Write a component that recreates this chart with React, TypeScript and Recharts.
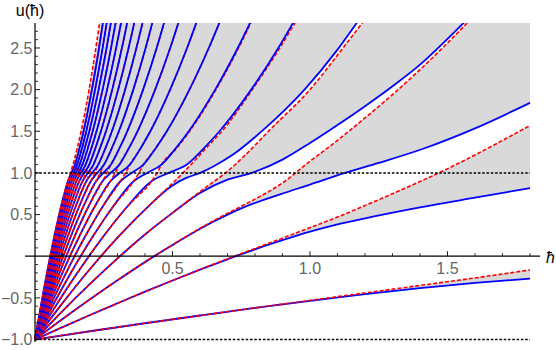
import {
  Area,
  ComposedChart,
  Line,
  ReferenceDot,
  ReferenceLine,
  XAxis,
  YAxis,
} from "recharts";

// frame runs a little past the data like the original plot
const H_DOMAIN: [number, number] = [-0.0364, 1.8364];
const U_DOMAIN: [number, number] = [-1.03, 2.8];

// lower band edges (blue), one list of [ħ, u] per band, band 0 first
const blueEdges: number[][][] = [
  [[0, -1], [0.2, -0.901], [0.4, -0.805], [0.6, -0.712], [0.8, -0.621], [1, -0.535], [1.2, -0.455], [1.4, -0.382], [1.6, -0.321], [1.8, -0.269]],
  [[0, -1], [0.1, -0.852], [0.2, -0.706], [0.3, -0.565], [0.4, -0.426], [0.5, -0.292], [0.6, -0.162], [0.7, -0.037], [0.8, 0.083], [0.9, 0.192], [1, 0.295], [1.1, 0.383], [1.2, 0.455], [1.4, 0.586], [1.6, 0.703], [1.8, 0.818]],
  [[0, -1], [0.1, -0.754], [0.2, -0.517], [0.3, -0.289], [0.4, -0.071], [0.5, 0.134], [0.632, 0.386], [0.75, 0.575], [0.894, 0.745], [1, 0.86], [1.127, 1], [1.25, 1.12], [1.414, 1.293], [1.6, 1.535], [1.8, 1.841]],
  [[0, -1], [0.1, -0.658], [0.2, -0.333], [0.3, -0.026], [0.4, 0.261], [0.5, 0.52], [0.6, 0.76], [0.7, 0.92], [0.788, 1], [0.9, 1.16], [1, 1.36], [1.073, 1.516], [1.2, 1.8], [1.3, 2.04], [1.4, 2.3], [1.5, 2.61], [1.6, 2.94], [1.8, 3.7]],
  [[0, -1], [0.1, -0.563], [0.2, -0.154], [0.3, 0.222], [0.4, 0.56], [0.5, 0.85], [0.55, 0.94], [0.601, 1], [0.65, 1.08], [0.72, 1.22], [0.83, 1.516], [0.98, 2], [1.1, 2.48], [1.17, 2.8], [1.3, 3.4]],
  [[0, -1], [0.1137, -0.4], [0.2401, 0.2], [0.3366, 0.6], [0.4236, 0.9], [0.4861, 1], [0.5521, 1.1], [0.6155, 1.3], [0.671, 1.5], [0.7862, 2], [0.8848, 2.5], [0.9727, 3]],
  [[0, -1], [0.0962, -0.4], [0.2032, 0.2], [0.2848, 0.6], [0.3585, 0.9], [0.408, 1], [0.4601, 1.1], [0.5129, 1.3], [0.5592, 1.5], [0.6552, 2], [0.7373, 2.5], [0.8106, 3]],
  [[0, -1], [0.0834, -0.4], [0.1761, 0.2], [0.2469, 0.6], [0.3107, 0.9], [0.3516, 1], [0.3944, 1.1], [0.4396, 1.3], [0.4793, 1.5], [0.5616, 2], [0.632, 2.5], [0.6948, 3]],
  [[0, -1], [0.0736, -0.4], [0.1554, 0.2], [0.2178, 0.6], [0.2741, 0.9], [0.3089, 1], [0.3451, 1.1], [0.3847, 1.3], [0.4194, 1.5], [0.4914, 2], [0.553, 2.5], [0.6079, 3]],
  [[0, -1], [0.0659, -0.4], [0.139, 0.2], [0.1949, 0.6], [0.2453, 0.9], [0.2755, 1], [0.3067, 1.1], [0.3419, 1.3], [0.3728, 1.5], [0.4368, 2], [0.4916, 2.5], [0.5404, 3]],
  [[0, -1], [0.0596, -0.4], [0.1258, 0.2], [0.1763, 0.6], [0.2219, 0.9], [0.2486, 1], [0.2761, 1.1], [0.3077, 1.3], [0.3355, 1.5], [0.3931, 2], [0.4424, 2.5], [0.4863, 3]],
  [[0, -1], [0.0544, -0.4], [0.1148, 0.2], [0.161, 0.6], [0.2026, 0.9], [0.2265, 1], [0.251, 1.1], [0.2798, 1.3], [0.305, 1.5], [0.3574, 2], [0.4022, 2.5], [0.4421, 3]],
  [[0, -1], [0.05, -0.4], [0.1056, 0.2], [0.1481, 0.6], [0.1864, 0.9], [0.208, 1], [0.2301, 1.1], [0.2565, 1.3], [0.2796, 1.5], [0.3276, 2], [0.3687, 2.5], [0.4053, 3]],
  [[0, -1], [0.0463, -0.4], [0.0978, 0.2], [0.1371, 0.6], [0.1726, 0.9], [0.1922, 1], [0.2124, 1.1], [0.2367, 1.3], [0.2581, 1.5], [0.3024, 2], [0.3403, 2.5], [0.3741, 3]],
  [[0, -1], [0.0431, -0.4], [0.0911, 0.2], [0.1277, 0.6], [0.1607, 0.9], [0.1788, 1], [0.1972, 1.1], [0.2198, 1.3], [0.2397, 1.5], [0.2808, 2], [0.316, 2.5], [0.3474, 3]],
  [[0, -1], [0.0404, -0.4], [0.0852, 0.2], [0.1194, 0.6], [0.1503, 0.9], [0.167, 1], [0.184, 1.1], [0.2052, 1.3], [0.2237, 1.5], [0.2621, 2], [0.2949, 2.5], [0.3242, 3]],
  [[0, -1], [0.0379, -0.4], [0.08, 0.2], [0.1122, 0.6], [0.1412, 0.9], [0.1567, 1], [0.1725, 1.1], [0.1923, 1.3], [0.2097, 1.5], [0.2457, 2], [0.2765, 2.5], [0.304, 3]],
  [[0, -1], [0.0357, -0.4], [0.0755, 0.2], [0.1058, 0.6], [0.1331, 0.9], [0.1477, 1], [0.1624, 1.1], [0.181, 1.3], [0.1974, 1.5], [0.2312, 2], [0.2602, 2.5], [0.2861, 3]],
  [[0, -1], [0.0338, -0.4], [0.0714, 0.2], [0.1001, 0.6], [0.1259, 0.9], [0.1395, 1], [0.1534, 1.1], [0.171, 1.3], [0.1864, 1.5], [0.2184, 2], [0.2458, 2.5], [0.2702, 3]],
  [[0, -1], [0.0321, -0.4], [0.0677, 0.2], [0.0949, 0.6], [0.1195, 0.9], [0.1323, 1], [0.1453, 1.1], [0.162, 1.3], [0.1766, 1.5], [0.2069, 2], [0.2328, 2.5], [0.256, 3]],
];

// upper band edges (red dashed), same band order
const redEdges: number[][][] = [
  [[0, -1], [0.2, -0.901], [0.4, -0.805], [0.6, -0.712], [0.8, -0.62], [1, -0.531], [1.2, -0.441], [1.4, -0.351], [1.6, -0.261], [1.8, -0.165]],
  [[0, -1], [0.1, -0.852], [0.2, -0.706], [0.3, -0.565], [0.4, -0.426], [0.5, -0.292], [0.6, -0.16], [0.7, -0.031], [0.8, 0.093], [0.9, 0.217], [1, 0.343], [1.1, 0.47], [1.2, 0.608], [1.3, 0.75], [1.4, 0.896], [1.5, 1.05], [1.6, 1.216], [1.7, 1.39], [1.8, 1.569]],
  [[0, -1], [0.1, -0.754], [0.2, -0.517], [0.3, -0.289], [0.4, -0.07], [0.5, 0.137], [0.632, 0.395], [0.75, 0.6], [0.8, 0.685], [0.9, 0.88], [1, 1.14], [1.1, 1.39], [1.2, 1.66], [1.3, 1.94], [1.4, 2.24], [1.5, 2.56], [1.6, 2.9], [1.8, 3.67]],
  [[0, -1], [0.1, -0.658], [0.2, -0.333], [0.3, -0.026], [0.4, 0.261], [0.5, 0.52], [0.6, 0.775], [0.65, 0.895], [0.7, 1.02], [0.76, 1.2], [0.855, 1.52], [1, 2], [1.12, 2.5], [1.19, 2.8], [1.3, 3.3]],
  [[0, -1], [0.1, -0.563], [0.2, -0.154], [0.3, 0.222], [0.4, 0.56], [0.45, 0.72], [0.5, 0.875], [0.538, 1], [0.57, 1.11], [0.62, 1.29], [0.685, 1.52], [0.79, 2], [0.89, 2.5], [0.945, 2.8], [1.05, 3.4]],
  [[0, -1], [0.1137, -0.4], [0.2401, 0.2], [0.3366, 0.6], [0.4236, 0.9], [0.4436, 1], [0.4601, 1.1], [0.5159, 1.3], [0.5622, 1.5], [0.6582, 2], [0.7403, 2.5], [0.8136, 3]],
  [[0, -1], [0.0962, -0.4], [0.2032, 0.2], [0.2848, 0.6], [0.3585, 0.9], [0.3777, 1], [0.3944, 1.1], [0.4396, 1.3], [0.4793, 1.5], [0.5616, 2], [0.632, 2.5], [0.6948, 3]],
  [[0, -1], [0.0834, -0.4], [0.1761, 0.2], [0.2469, 0.6], [0.3107, 0.9], [0.3289, 1], [0.3451, 1.1], [0.3847, 1.3], [0.4194, 1.5], [0.4914, 2], [0.553, 2.5], [0.6079, 3]],
  [[0, -1], [0.0736, -0.4], [0.1554, 0.2], [0.2178, 0.6], [0.2741, 0.9], [0.2912, 1], [0.3067, 1.1], [0.3419, 1.3], [0.3728, 1.5], [0.4368, 2], [0.4916, 2.5], [0.5404, 3]],
  [[0, -1], [0.0659, -0.4], [0.139, 0.2], [0.1949, 0.6], [0.2453, 0.9], [0.2613, 1], [0.2761, 1.1], [0.3077, 1.3], [0.3355, 1.5], [0.3931, 2], [0.4424, 2.5], [0.4863, 3]],
  [[0, -1], [0.0596, -0.4], [0.1258, 0.2], [0.1763, 0.6], [0.2219, 0.9], [0.237, 1], [0.251, 1.1], [0.2798, 1.3], [0.305, 1.5], [0.3574, 2], [0.4022, 2.5], [0.4421, 3]],
  [[0, -1], [0.0544, -0.4], [0.1148, 0.2], [0.161, 0.6], [0.2026, 0.9], [0.2168, 1], [0.2301, 1.1], [0.2565, 1.3], [0.2796, 1.5], [0.3276, 2], [0.3687, 2.5], [0.4053, 3]],
  [[0, -1], [0.05, -0.4], [0.1056, 0.2], [0.1481, 0.6], [0.1864, 0.9], [0.1998, 1], [0.2124, 1.1], [0.2367, 1.3], [0.2581, 1.5], [0.3024, 2], [0.3403, 2.5], [0.3741, 3]],
  [[0, -1], [0.0463, -0.4], [0.0978, 0.2], [0.1371, 0.6], [0.1726, 0.9], [0.1853, 1], [0.1972, 1.1], [0.2198, 1.3], [0.2397, 1.5], [0.2808, 2], [0.316, 2.5], [0.3474, 3]],
  [[0, -1], [0.0431, -0.4], [0.0911, 0.2], [0.1277, 0.6], [0.1607, 0.9], [0.1727, 1], [0.184, 1.1], [0.2052, 1.3], [0.2237, 1.5], [0.2621, 2], [0.2949, 2.5], [0.3242, 3]],
  [[0, -1], [0.0404, -0.4], [0.0852, 0.2], [0.1194, 0.6], [0.1503, 0.9], [0.1617, 1], [0.1725, 1.1], [0.1923, 1.3], [0.2097, 1.5], [0.2457, 2], [0.2765, 2.5], [0.304, 3]],
  [[0, -1], [0.0379, -0.4], [0.08, 0.2], [0.1122, 0.6], [0.1412, 0.9], [0.1521, 1], [0.1624, 1.1], [0.181, 1.3], [0.1974, 1.5], [0.2312, 2], [0.2602, 2.5], [0.2861, 3]],
  [[0, -1], [0.0357, -0.4], [0.0755, 0.2], [0.1058, 0.6], [0.1331, 0.9], [0.1435, 1], [0.1534, 1.1], [0.171, 1.3], [0.1864, 1.5], [0.2184, 2], [0.2458, 2.5], [0.2702, 3]],
  [[0, -1], [0.0338, -0.4], [0.0714, 0.2], [0.1001, 0.6], [0.1259, 0.9], [0.1358, 1], [0.1453, 1.1], [0.162, 1.3], [0.1766, 1.5], [0.2069, 2], [0.2328, 2.5], [0.256, 3]],
  [[0, -1], [0.0321, -0.4], [0.0677, 0.2], [0.0949, 0.6], [0.1195, 0.9], [0.129, 1], [0.138, 1.1], [0.1539, 1.3], [0.1678, 1.5], [0.1966, 2], [0.2212, 2.5], [0.2432, 3]],
];

const xMajor = [0.5, 1, 1.5];
const xLabels = ["0.5", "1.0", "1.5"];
const xMinor = [0.1, 0.2, 0.3, 0.4, 0.6, 0.7, 0.8, 0.9, 1.1, 1.2, 1.3, 1.4, 1.6, 1.7, 1.8];
const yMajor = [-1, -0.5, 0.5, 1, 1.5, 2, 2.5];
const yLabels = ["\u22121.0", "\u22120.5", "0.5", "1.0", "1.5", "2.0", "2.5"];
const yMinor = [
  -0.9, -0.8, -0.7, -0.6, -0.4, -0.3, -0.2, -0.1, 0.1, 0.2, 0.3, 0.4, 0.6, 0.7, 0.8, 0.9,
  1.1, 1.2, 1.3, 1.4, 1.6, 1.7, 1.8, 1.9, 2.1, 2.2, 2.3, 2.4, 2.6, 2.7,
];
const dottedLevels = [1, -1];
const plotSpan = [{ h: 0, u: 2.8 }, { h: 1.8, u: 2.8 }];

const GRAY = "#d9d9d9";
const BLUE = "#0000ff";
const RED = "#ff0000";
const TICK_GRAY = "#666666";
const FONT = "'Liberation Sans', Arial, sans-serif";

const rows = (pts: number[][]) => pts.map(([h, u]) => ({ h, u, top: 3.6 }));

function fillUnder(key: string, pts: number[][], color: string) {
  return (
    <Area
      key={key}
      data={rows(pts)}
      dataKey="u"
      type="monotoneX"
      baseValue={U_DOMAIN[0]}
      stroke="none"
      fill={color}
      fillOpacity={1}
      shapeRendering="crispEdges"
      dot={false}
      activeDot={false}
      isAnimationActive={false}
    />
  );
}

export default function App() {
  // painter's order: grey backdrop, white above the top edge,
  // then alternating white/grey under each edge going downwards
  const fills = [
    <Area
      key="bg"
      data={plotSpan}
      dataKey="u"
      type="linear"
      baseValue={U_DOMAIN[0]}
      stroke="none"
      fill={GRAY}
      fillOpacity={1}
      shapeRendering="crispEdges"
      dot={false}
      activeDot={false}
      isAnimationActive={false}
    />,
    <Area
      key="above"
      data={rows(redEdges[19])}
      dataKey={(d: any) => [d.u, d.top]}
      type="monotoneX"
      stroke="none"
      fill="#ffffff"
      fillOpacity={1}
      shapeRendering="crispEdges"
      dot={false}
      activeDot={false}
      isAnimationActive={false}
    />,
  ];
  for (let n = 19; n >= 0; n--) {
    fills.push(fillUnder(`w${n}`, blueEdges[n], "#ffffff"));
    if (n > 0) fills.push(fillUnder(`g${n}`, redEdges[n - 1], GRAY));
  }

  const lines: any[] = [];
  for (let n = 0; n < 20; n++) {
    lines.push(
      <Line
        key={`b${n}`}
        data={rows(blueEdges[n])}
        dataKey="u"
        type="monotoneX"
        stroke={BLUE}
        strokeWidth={1.8}
        dot={false}
        activeDot={false}
        isAnimationActive={false}
      />,
      <Line
        key={`r${n}`}
        data={rows(redEdges[n])}
        dataKey="u"
        type="monotoneX"
        stroke={RED}
        strokeWidth={1.6}
        strokeDasharray="4 2"
        dot={false}
        activeDot={false}
        isAnimationActive={false}
      />
    );
  }

  return (
    <div style={{ position: "absolute", left: 0, top: 0, width: 556, height: 350, background: "#fff" }}>
      <ComposedChart width={556} height={350} margin={{ top: 23, right: 16, bottom: 8, left: 25 }}>
        <XAxis type="number" dataKey="h" domain={H_DOMAIN} allowDataOverflow hide />
        <YAxis type="number" domain={U_DOMAIN} allowDataOverflow hide />
        {fills}
        {lines}
        {dottedLevels.map((v) => (
          <ReferenceLine
            key={`dot${v}`}
            segment={[{ x: 0, y: v }, { x: 1.8, y: v }]}
            stroke="#000"
            strokeWidth={1.5}
            strokeDasharray="2.5 1.8"
            ifOverflow="visible"
          />
        ))}
        <ReferenceLine y={0} stroke="#000" strokeWidth={1.2} />
        <ReferenceLine x={0} stroke="#000" strokeWidth={1.2} />
        {xMinor.map((v) => (
          <ReferenceDot
            key={`xm${v}`}
            x={v}
            y={0}
            r={0}
            ifOverflow="visible"
            shape={(p: any) => <line x1={p.cx} y1={p.cy} x2={p.cx} y2={p.cy - 3} stroke="#000" strokeWidth={0.8} />}
          />
        ))}
        {xMajor.map((v, i) => (
          <ReferenceDot
            key={`xM${v}`}
            x={v}
            y={0}
            r={0}
            ifOverflow="visible"
            shape={(p: any) => (
              <g>
                <line x1={p.cx} y1={p.cy} x2={p.cx} y2={p.cy - 5} stroke="#000" strokeWidth={0.9} />
                <text x={p.cx} y={p.cy + 18} textAnchor="middle" fill={TICK_GRAY} fontSize={16} fontFamily={FONT}>
                  {xLabels[i]}
                </text>
              </g>
            )}
          />
        ))}
        {yMinor.map((v) => (
          <ReferenceDot
            key={`ym${v}`}
            x={0}
            y={v}
            r={0}
            ifOverflow="visible"
            shape={(p: any) => <line x1={p.cx} y1={p.cy} x2={p.cx + 3} y2={p.cy} stroke="#000" strokeWidth={0.8} />}
          />
        ))}
        {yMajor.map((v, i) => (
          <ReferenceDot
            key={`yM${v}`}
            x={0}
            y={v}
            r={0}
            ifOverflow="visible"
            shape={(p: any) => (
              <g>
                <line x1={p.cx} y1={p.cy} x2={p.cx + 5} y2={p.cy} stroke="#000" strokeWidth={0.9} />
                <text x={p.cx - 2.5} y={p.cy} dy="0.36em" textAnchor="end" fill={TICK_GRAY} fontSize={16} fontFamily={FONT}>
                  {yLabels[i]}
                </text>
              </g>
            )}
          />
        ))}
        <ReferenceDot
          x={0}
          y={U_DOMAIN[1]}
          r={0}
          ifOverflow="visible"
          shape={(p: any) => (
            <text x={p.cx - 5} y={p.cy - 7} textAnchor="middle" fill="#000" fontSize={16} fontFamily={FONT}>
              u(ħ)
            </text>
          )}
        />
        <ReferenceDot
          x={H_DOMAIN[1]}
          y={0}
          r={0}
          ifOverflow="visible"
          shape={(p: any) => (
            <text x={p.cx + 6} y={p.cy + 7} fill="#000" fontSize={16} fontStyle="italic" fontFamily={FONT}>
              ħ
            </text>
          )}
        />
      </ComposedChart>
    </div>
  );
}
